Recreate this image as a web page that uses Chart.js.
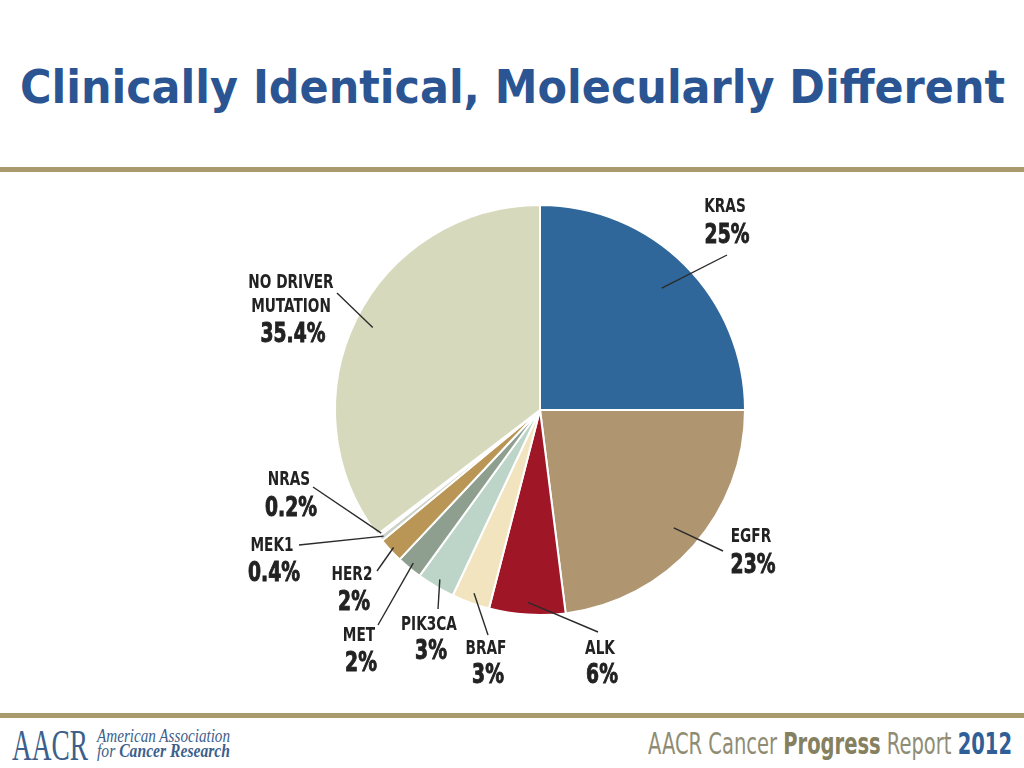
<!DOCTYPE html>
<html>
<head>
<meta charset="utf-8">
<title>Clinically Identical, Molecularly Different</title>
<script src="https://cdn.jsdelivr.net/npm/chart.js@4.4.1/dist/chart.umd.min.js"></script>
<style>
  html, body { margin: 0; padding: 0; background: #fff; }
  body { width: 1024px; height: 768px; position: relative; overflow: hidden; }
  #page { position: absolute; left: 0; top: 0; }
  #chartWrap { position: absolute; left: 0; top: 0; width: 1024px; height: 768px; }
</style>
</head>
<body>

<svg id="page" width="1024" height="768" xmlns="http://www.w3.org/2000/svg">
  <text x="20" y="103" textLength="985" lengthAdjust="spacingAndGlyphs"
        font-family="DejaVu Sans Condensed, DejaVu Sans, sans-serif" font-weight="bold"
        font-size="47" fill="#2b5592">Clinically Identical, Molecularly Different</text>

  <rect x="0" y="167" width="1024" height="5" fill="#a99b6d"/>
  <rect x="0" y="713" width="1024" height="5" fill="#a99b6d"/>

  <!-- footer, left -->
  <text x="12" y="760" textLength="76" lengthAdjust="spacingAndGlyphs"
        font-family="Liberation Serif, serif" font-size="44" fill="#3d5f8c">AACR</text>
  <text x="97" y="742" textLength="133" lengthAdjust="spacingAndGlyphs"
        font-family="Liberation Serif, serif" font-style="italic" font-size="18" fill="#3d5f8c">American Association</text>
  <text x="97" y="757" textLength="133" lengthAdjust="spacingAndGlyphs"
        font-family="Liberation Serif, serif" font-style="italic" font-size="18" fill="#3d5f8c">for <tspan font-weight="bold">Cancer Research</tspan></text>

  <!-- footer, right -->
  <text x="648" y="754" textLength="364" lengthAdjust="spacingAndGlyphs"
        font-family="Liberation Sans Narrow, DejaVu Sans Condensed, sans-serif" font-size="30" fill="#8f8c74">AACR Cancer <tspan font-weight="bold" fill="#858060">Progress</tspan> Report <tspan font-weight="bold" fill="#2f5f96">2012</tspan></text>
</svg>

<div id="chartWrap"><canvas id="pie"></canvas></div>

<script>
// mutation categories and share of tumours (%)
const categories = ['KRAS', 'EGFR', 'ALK', 'BRAF', 'PIK3CA', 'MET', 'HER2', 'MEK1', 'NRAS', 'NO DRIVER MUTATION'];
const shares = [25, 23, 6, 3, 3, 2, 2, 0.4, 0.2, 35.4];
const shareLabels = ['25%', '23%', '6%', '3%', '3%', '2%', '2%', '0.4%', '0.2%', '35.4%'];
const sliceColors = ['#2f679b', '#b09670', '#9f1626', '#f1e4bf', '#bdd5c8', '#8e9f8f',
                     '#b99656', '#cdd2ca', '#ebede4', '#d6d9bc'];

// where each callout sits (text centre x, baselines) and where its leader line ends
const callouts = [
  { name: ['KRAS'],               x: 725, nameY: [212],      pctY: 243, end: [727, 255], f: 0.84 },
  { name: ['EGFR'],               x: 751, nameY: [542],      pctY: 573, end: [723, 551], f: 0.87 },
  { name: ['ALK'],                x: 600, nameY: [654],      pctY: 683, end: [598, 632], f: 0.94 },
  { name: ['BRAF'],               x: 486, nameY: [654],      pctY: 683, end: [488, 635], f: 0.95 },
  { name: ['PIK3CA'],             x: 429, nameY: [630],      pctY: 659, end: [438, 609], f: 0.96 },
  { name: ['MET'],                x: 359, nameY: [641],      pctY: 671, end: [378, 625], f: 0.97 },
  { name: ['HER2'],               x: 352, nameY: [580],      pctY: 610, end: [377, 571], f: 0.98 },
  { name: ['MEK1'],               x: 272, nameY: [551],      pctY: 581, end: [299, 545], f: 0.98 },
  { name: ['NRAS'],               x: 289, nameY: [485],      pctY: 516, end: [313, 487], f: 0.98 },
  { name: ['NO DRIVER', 'MUTATION'], x: 291, nameY: [288, 312], pctY: 342, end: [337, 293], f: 0.91 }
];

const nameFont = 'bold 19px "Liberation Sans Narrow", "DejaVu Sans Condensed", sans-serif';
const pctFont = 'bold 26px "Liberation Sans Narrow", "DejaVu Sans Condensed", sans-serif';
const squeeze = 0.8; // no condensed grotesque installed, so narrow the text by hand

function narrowText(ctx, text, x, y, heavy) {
  ctx.save();
  ctx.translate(x, y);
  ctx.scale(squeeze, 1);
  ctx.fillText(text, 0, 0);
  if (heavy) {
    ctx.lineWidth = 0.9;
    ctx.strokeStyle = ctx.fillStyle;
    ctx.strokeText(text, 0, 0);
  }
  ctx.restore();
}

const calloutPlugin = {
  id: 'callouts',
  afterDatasetsDraw(chart) {
    const ctx = chart.ctx;
    const arcs = chart.getDatasetMeta(0).data;
    ctx.save();
    callouts.forEach((c, i) => {
      const arc = arcs[i];
      const mid = (arc.startAngle + arc.endAngle) / 2;
      const r = arc.outerRadius * c.f;
      ctx.beginPath();
      ctx.moveTo(arc.x + Math.cos(mid) * r, arc.y + Math.sin(mid) * r);
      ctx.lineTo(c.end[0], c.end[1]);
      ctx.strokeStyle = '#2b2b2b';
      ctx.lineWidth = 1.4;
      ctx.stroke();

      ctx.fillStyle = '#222';
      ctx.textAlign = 'center';
      ctx.textBaseline = 'alphabetic';
      ctx.font = nameFont;
      c.name.forEach((line, k) => narrowText(ctx, line, c.x, c.nameY[k], false));
      ctx.font = pctFont;
      narrowText(ctx, shareLabels[i], c.x + 2, c.pctY, true);
    });
    ctx.restore();
  }
};

new Chart(document.getElementById('pie'), {
  type: 'pie',
  data: {
    labels: categories,
    datasets: [{
      data: shares,
      backgroundColor: sliceColors,
      borderColor: '#ffffff',
      borderWidth: 2
    }]
  },
  options: {
    responsive: true,
    maintainAspectRatio: false,
    animation: false,
    layout: { padding: { left: 334, right: 278, top: 204, bottom: 152 } },
    plugins: {
      legend: { display: false },
      tooltip: { enabled: false }
    }
  },
  plugins: [calloutPlugin]
});
</script>
</body>
</html>
